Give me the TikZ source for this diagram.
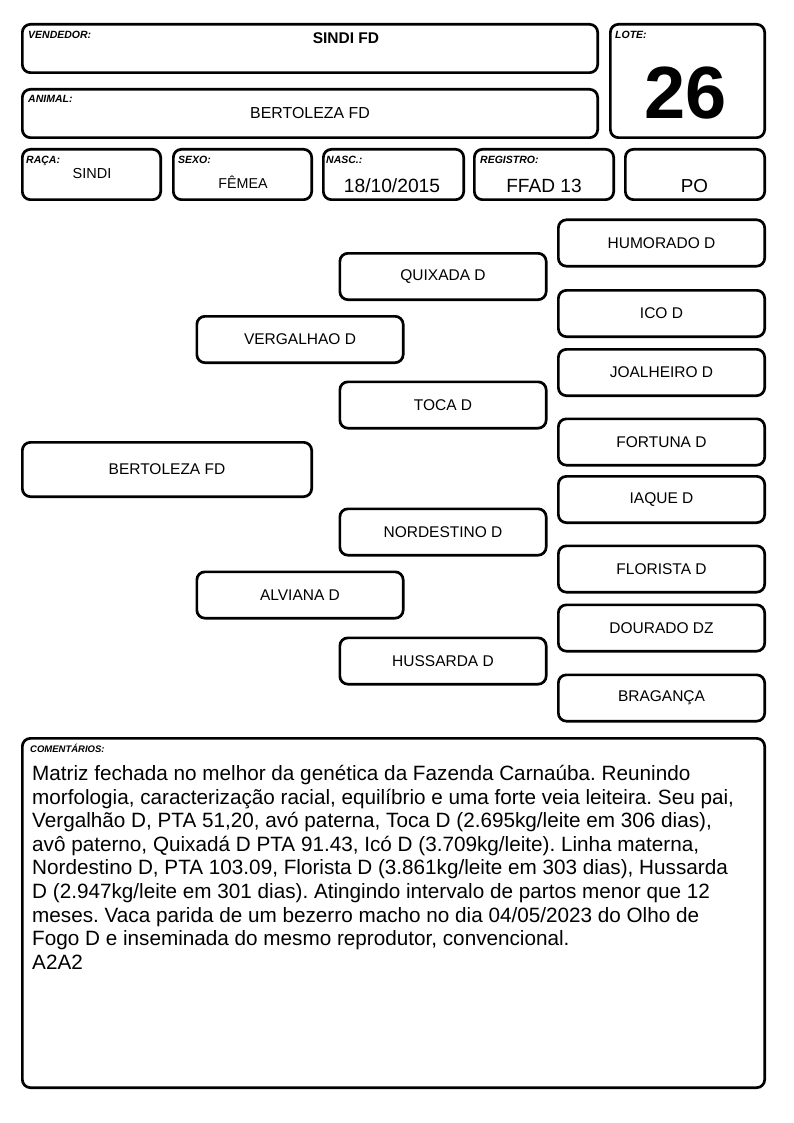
\documentclass[tikz,border=0pt]{standalone}
\usepackage{fontspec}
\setmainfont{Liberation Sans}
\frenchspacing
\begin{document}
\begin{tikzpicture}[x=1pt,y=-1pt,
  box/.style={draw, line width=2.7pt, rounded corners=8pt, inner sep=0pt, outer sep=0pt},
  lab/.style={anchor=base west, inner sep=0pt, font=\fontsize{10.5}{12}\selectfont\bfseries\itshape},
  val/.style={anchor=base, inner sep=0pt},
  ped/.style={box, minimum width=206.3pt, minimum height=46.3pt, font=\fontsize{15.5}{18}\selectfont}]
\useasboundingbox (0,0) rectangle (794,1123);
% header boxes
\node[box, minimum width=575.3pt, minimum height=48.3pt] (vend) at (310,48.5) {};
\node[box, minimum width=154.3pt, minimum height=113.3pt] (lote) at (687.5,81) {};
\node[box, minimum width=575.3pt, minimum height=48.3pt] (anim) at (310,113.5) {};
\node[box, minimum width=138.3pt, minimum height=50.3pt] (raca) at (91.5,174.5) {};
\node[box, minimum width=138.3pt, minimum height=50.3pt] (sexo) at (242.5,174.5) {};
\node[box, minimum width=140.3pt, minimum height=50.3pt] (nasc) at (393.5,174.5) {};
\node[box, minimum width=139.3pt, minimum height=50.3pt] (regi) at (544,174.5) {};
\node[box, minimum width=139.3pt, minimum height=50.3pt] (po) at (695,174.5) {};
% labels
\node[lab] (lvend) at (28,39) {VENDEDOR:};
\node[lab] (llote) at (615,39) {LOTE:};
\node[lab] (lanim) at (28,103) {ANIMAL:};
\node[lab] (lraca) at (26,164) {RAÇA:};
\node[lab] (lsexo) at (178,164) {SEXO:};
\node[lab] (lnasc) at (326,164) {NASC.:};
\node[lab] (lregi) at (480,164) {REGISTRO:};
% values
\node[val, font=\fontsize{15.5}{18}\selectfont\bfseries] (tvend) at (346,43.2) {SINDI FD};
\node[val, font=\fontsize{74}{80}\selectfont\bfseries] (tlote) at (686,119) {26};
\node[val, font=\fontsize{15.9}{18}\selectfont] (tanim) at (310,118.7) {BERTOLEZA FD};
\node[val, font=\fontsize{14.5}{17}\selectfont] (traca) at (92,178.3) {SINDI};
\node[val, font=\fontsize{14.3}{17}\selectfont] (tsexo) at (243,188.5) {FÊMEA};
\node[val, font=\fontsize{19.2}{22}\selectfont] (tnasc) at (392,193) {18/10/2015};
\node[val, font=\fontsize{19.1}{22}\selectfont] (tregi) at (544,193) {FFAD 13};
\node[val, font=\fontsize{18.8}{22}\selectfont] (tpo) at (694.5,193) {PO};
% pedigree
\node[ped, minimum width=289.3pt, minimum height=54.3pt] (bert) at (167,469.5) {BERTOLEZA FD};
\node[ped] (verg) at (300,339.5) {VERGALHAO D};
\node[ped] (alvi) at (300,595) {ALVIANA D};
\node[ped] (quix) at (443,276.5) {QUIXADA D};
\node[ped] (toca) at (443,405) {TOCA D};
\node[ped] (nord) at (443,532) {NORDESTINO D};
\node[ped] (huss) at (443,661) {HUSSARDA D};
\node[ped] (humo) at (661.5,243) {HUMORADO D};
\node[ped] (ico) at (661.5,313.5) {ICO D};
\node[ped] (joal) at (661.5,372.5) {JOALHEIRO D};
\node[ped] (fort) at (661.5,442) {FORTUNA D};
\node[ped] (iaqu) at (661.5,499.5) {IAQUE D};
\node[ped] (flor) at (661.5,569) {FLORISTA D};
\node[ped] (dour) at (661.5,628) {DOURADO DZ};
\node[ped] (brag) at (661.5,698) {BRAGANÇA};
% comments
\node[box, minimum width=742.3pt, minimum height=349.3pt] (come) at (393.5,913) {};
\node[lab, font=\fontsize{9.5}{12}\selectfont\bfseries\itshape] (lcome) at (30,752) {COMENTÁRIOS:};
\node[anchor=north west, inner sep=0pt, align=left, font=\fontsize{20.7}{23.6}\selectfont] (tcome) at (32,765) {Matriz fechada no melhor da genética da Fazenda Carnaúba. Reunindo\\
morfologia, caracterização racial, equilíbrio e uma forte veia leiteira. Seu pai,\\
Vergalhão D, PTA 51,20, avó paterna, Toca D (2.695kg/leite em 306 dias),\\
avô paterno, Quixadá D PTA 91.43, Icó D (3.709kg/leite). Linha materna,\\
Nordestino D, PTA 103.09, Florista D (3.861kg/leite em 303 dias), Hussarda\\
D (2.947kg/leite em 301 dias). Atingindo intervalo de partos menor que 12\\
meses. Vaca parida de um bezerro macho no dia 04/05/2023 do Olho de\\
Fogo D e inseminada do mesmo reprodutor, convencional.\\
A2A2};
\end{tikzpicture}
\end{document}
